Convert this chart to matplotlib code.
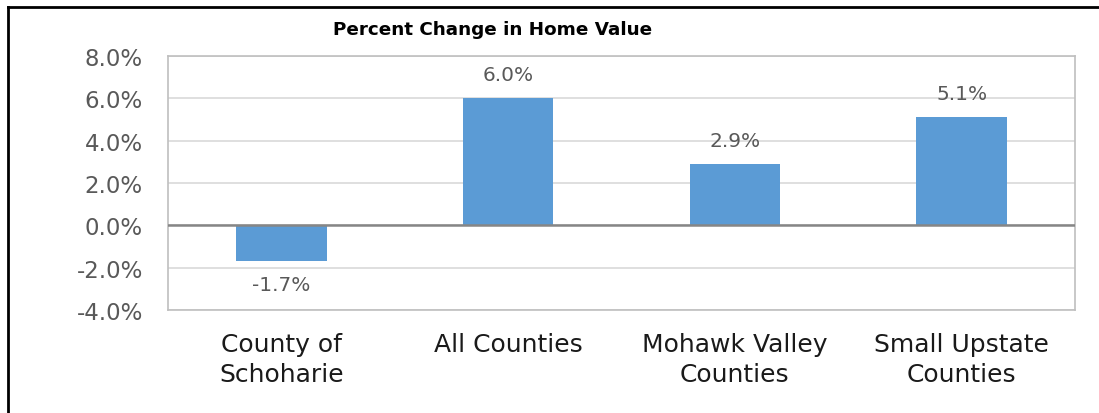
"""
Percent change in home value, bar chart with data labels.
"""
import matplotlib.pyplot as plt
from matplotlib.lines import Line2D
from matplotlib.ticker import FuncFormatter

categories = ["County of\nSchoharie", "All Counties", "Mohawk Valley\nCounties", "Small Upstate\nCounties"]
pct_change = [-1.7, 6.0, 2.9, 5.1]
y_ticks = [-4, -2, 0, 2, 4, 6, 8]

plt.rcParams["font.family"] = ["DejaVu Sans"]

W, H = 1099, 414
fig = plt.figure(figsize=(W / 100, H / 100), dpi=100)
ax = fig.add_axes([168 / W, 1 - 311 / H, (1075 - 168) / W, (311 - 57) / H])

x = list(range(len(categories)))
bars = ax.bar(x, pct_change, width=0.40, color="#5B9BD5", zorder=3)

ax.set_xlim(-0.5, len(categories) - 0.5)
ax.set_ylim(-4, 8)
ax.set_yticks(y_ticks)
ax.yaxis.set_major_formatter(FuncFormatter(lambda v, _: f"{v:.1f}%"))
ax.tick_params(axis="y", length=0, pad=18, labelsize=16.5, labelcolor="#595959")
ax.set_xticks(x)
ax.set_xticklabels(categories, fontsize=18, color="#1a1a1a", linespacing=1.32)
ax.tick_params(axis="x", length=0, pad=16)

ax.grid(axis="y", color="#D9D9D9", linewidth=1.2, zorder=0)
ax.axhline(0, color="#868686", linewidth=1.8, zorder=4)
for s in ax.spines.values():
    s.set_color("#BFBFBF")
    s.set_linewidth(1.2)

for rect, v in zip(bars, pct_change):
    cx = rect.get_x() + rect.get_width() / 2
    if v >= 0:
        ax.annotate(f"{v:.1f}%", (cx, v), xytext=(0, 10), textcoords="offset points",
                    ha="center", va="bottom", fontsize=14.5, color="#595959")
    else:
        ax.annotate(f"{v:.1f}%", (cx, v), xytext=(0, -10), textcoords="offset points",
                    ha="center", va="top", fontsize=14.5, color="#595959")

fig.text(493 / W, 1 - 30 / H, "Percent Change in Home Value", ha="center", va="center",
         fontsize=13.2, fontweight="bold", color="black")

# outer frame (only left and top edges visible in the crop)
fig.add_artist(Line2D([8 / W, 8 / W], [0, 1 - 8 / H], color="black", linewidth=2, transform=fig.transFigure))
fig.add_artist(Line2D([8 / W, 1], [1 - 8 / H, 1 - 8 / H], color="black", linewidth=2, transform=fig.transFigure))

fig.savefig("out.png", dpi=100)
